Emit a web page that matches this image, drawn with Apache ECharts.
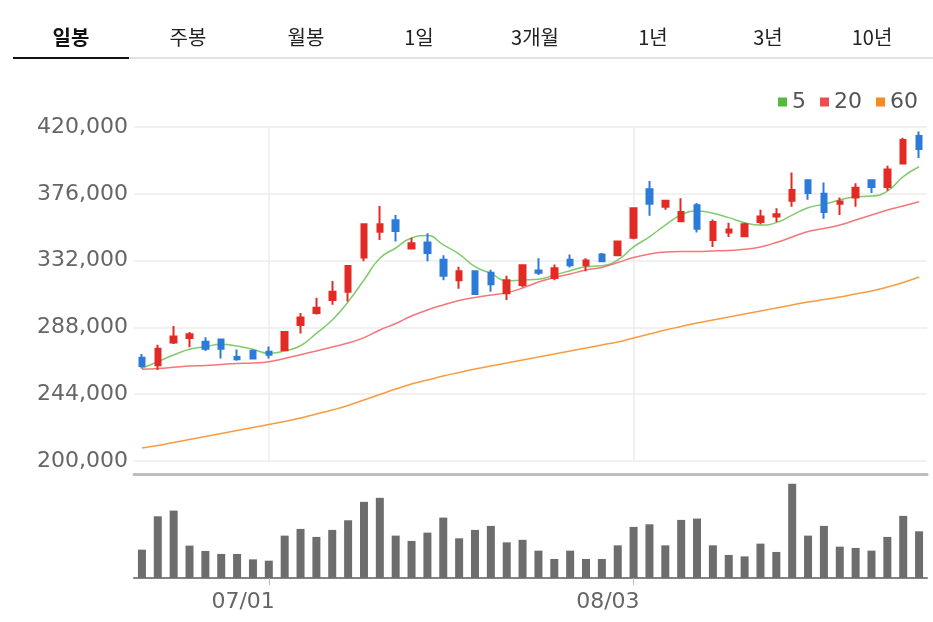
<!DOCTYPE html>
<html>
<head>
<meta charset="utf-8">
<script src="https://cdn.jsdelivr.net/npm/echarts@6/dist/echarts.min.js"></script>
<style>
  html, body { margin: 0; padding: 0; background: #fff; }
  #chart { width: 933px; height: 622px; }
</style>
</head>
<body>
<div id="chart"></div>
<script>
// 탭 메뉴
const tabs = ['일봉', '주봉', '월봉', '1일', '3개월', '1년', '3년', '10년']
const tabX = [71, 188, 306, 419, 535, 653, 768, 872]

// 날짜 (일봉)
const dates = [
  '06/19', '06/22', '06/23', '06/24', '06/25', '06/26', '06/29', '06/30',
  '07/01', '07/02', '07/03', '07/06', '07/07', '07/08', '07/09', '07/10',
  '07/13', '07/14', '07/15', '07/16', '07/17', '07/20', '07/21', '07/22',
  '07/23', '07/24', '07/27', '07/28', '07/29', '07/30', '07/31',
  '08/03', '08/04', '08/05', '08/06', '08/07', '08/10', '08/11', '08/12',
  '08/13', '08/14', '08/18', '08/19', '08/20', '08/21', '08/24', '08/25',
  '08/26', '08/27', '08/28'
]
const labelDates = ['07/01', '08/03']

// [시가, 종가, 저가, 고가]
const ohlc = [
  [268000, 262500, 261000, 270500], [263000, 274000, 260000, 276500],
  [278000, 282000, 277000, 289000], [281000, 283500, 275000, 285000],
  [278500, 274000, 272500, 281500], [280000, 274000, 267500, 280500],
  [268500, 267000, 266000, 273500], [272500, 267500, 267000, 273500],
  [272000, 270000, 267500, 275500], [273000, 285000, 272500, 285500],
  [289500, 294500, 284000, 297500], [297500, 301000, 296500, 307500],
  [306000, 311500, 303000, 318500], [311500, 328500, 305000, 329000],
  [334000, 356000, 331500, 356500], [351000, 356000, 345500, 368000],
  [358500, 351500, 344500, 362000], [340000, 343500, 340000, 347000],
  [344000, 337000, 331500, 350000], [332500, 322000, 319000, 335500],
  [319000, 325000, 313500, 328000], [325000, 310000, 309500, 325500],
  [324000, 316500, 311500, 326000], [310500, 319000, 306000, 322000],
  [316000, 329000, 314500, 329500], [325500, 324000, 322500, 333500],
  [320500, 327000, 319000, 329500], [332500, 329000, 327500, 336000],
  [329000, 332000, 325000, 333500], [336000, 331500, 331000, 337000],
  [335500, 344500, 335500, 344500], [347000, 366500, 346000, 366500],
  [379000, 369500, 361500, 384500], [367500, 371500, 365500, 372000],
  [358000, 364000, 357500, 373000], [368500, 353000, 350500, 370000],
  [345500, 357500, 341000, 359000], [350500, 352500, 347500, 357000],
  [348000, 356000, 347500, 357000], [357500, 361000, 356000, 365500],
  [361000, 362500, 357500, 366500], [371500, 378500, 367500, 390000],
  [385000, 376500, 372000, 385500], [376000, 364000, 359500, 383500],
  [369500, 371000, 362000, 373500], [373500, 380000, 367500, 383000],
  [385000, 380500, 376500, 385500], [380500, 392000, 378000, 394500],
  [396000, 411500, 396000, 413000], [414000, 405500, 399500, 417000]
]

// 이동평균선
const ma5 = [
  261100, 265400, 269800, 273600, 275300, 276900, 275700, 273600, 270900, 272600,
  275900, 284100, 292900, 304900, 319200, 333500, 340300, 346900, 348500, 342300,
  336300, 328000, 323600, 318600, 319200, 319700, 322500, 325300, 328000, 328600,
  332400, 341000, 347700, 355400, 362000, 364700, 363200, 360300, 357000, 355400,
  357000, 362000, 366800, 369100, 371900, 374100, 374500, 377800, 387300, 393800
]
const ma20 = [
  260400, 260900, 261700, 262600, 262900, 263600, 264200, 264500, 265400, 267500,
  270000, 272500, 275100, 277700, 281300, 286300, 290600, 295500, 299500, 302800,
  305700, 307700, 309300, 310900, 313900, 317900, 320900, 323200, 325800, 327500,
  330700, 334000, 336300, 337700, 338000, 338000, 338300, 338700, 339400, 341000,
  343900, 347500, 351200, 353100, 355400, 358700, 362000, 365300, 368000, 370800
]
const ma60 = [
  208600, 210200, 212200, 214200, 216100, 218100, 220100, 222100, 224000, 226000,
  228300, 231000, 233600, 236600, 240200, 243800, 247400, 250700, 253300, 256000,
  258300, 260600, 262600, 264500, 266500, 268500, 270500, 272500, 274400, 276400,
  278400, 281000, 283600, 286300, 288600, 290900, 292900, 294800, 296800, 298800,
  300800, 302800, 304700, 306400, 308000, 310000, 312000, 314600, 317600, 321200
]

// 거래량
const volumes = [
  283000, 616000, 673000, 323000, 270000, 240000, 240000, 186000, 173000, 423000,
  490000, 410000, 480000, 576000, 760000, 800000, 423000, 370000, 453000, 603000,
  396000, 480000, 520000, 356000, 381000, 273000, 190000, 273000, 190000, 190000,
  326000, 510000, 536000, 326000, 580000, 593000, 326000, 230000, 216000, 343000,
  260000, 940000, 423000, 520000, 313000, 300000, 273000, 410000, 620000, 466000
]

const UP = '#e22b25'
const DOWN = '#2d7bd8'
const showLabel = (i, v) => labelDates.includes(v)

const chart = echarts.init(document.getElementById('chart'))

const tabGraphics = tabs.map((t, i) => ({
  type: 'text',
  x: tabX[i],
  y: 37,
  style: {
    text: t,
    align: 'center',
    verticalAlign: 'middle',
    fontFamily: 'Noto Sans CJK KR',
    fontSize: 20,
    fontWeight: i === 0 ? 'bold' : 'normal',
    fill: i === 0 ? '#111' : '#222'
  }
}))

const option = {
  animation: false,
  textStyle: { fontFamily: 'DejaVu Sans' },
  graphic: [
    ...tabGraphics,
    { type: 'rect', shape: { x: 13, y: 57, width: 920, height: 2 }, style: { fill: '#e3e3e3' } },
    { type: 'rect', shape: { x: 13, y: 57, width: 116, height: 2 }, style: { fill: '#111' } }
  ],
  legend: {
    data: ['5', '20', '60'],
    right: 10,
    top: 86,
    icon: 'rect',
    itemWidth: 9,
    itemHeight: 9,
    itemGap: 14,
    textStyle: { fontSize: 22, color: '#555' }
  },
  grid: [
    { left: 134, right: 6, top: 127, height: 334 },
    { left: 134, right: 6, top: 474, bottom: 44 }
  ],
  xAxis: [
    {
      type: 'category',
      gridIndex: 0,
      data: dates,
      boundaryGap: true,
      axisLine: { show: false },
      axisTick: { show: false },
      axisLabel: { show: false },
      splitLine: { show: false }
    },
    {
      type: 'category',
      gridIndex: 1,
      data: dates,
      boundaryGap: true,
      axisLine: { lineStyle: { color: '#80848a', width: 2 } },
      axisTick: { show: true, alignWithLabel: true, interval: showLabel, length: 7, lineStyle: { color: '#bbb' } },
      axisLabel: { interval: showLabel, fontSize: 22, color: '#666', margin: 13, align: 'right', padding: [0, -6, 0, 0] },
      splitLine: { show: false }
    },
    {
      type: 'category',
      gridIndex: 1,
      position: 'top',
      data: dates,
      axisLine: { lineStyle: { color: '#bdbdbd', width: 3 } },
      axisTick: { show: false },
      axisLabel: { show: false }
    }
  ],
  yAxis: [
    {
      type: 'value',
      gridIndex: 0,
      min: 200000,
      max: 420000,
      interval: 44000,
      axisLine: { show: false },
      axisTick: { show: false },
      axisLabel: {
        fontSize: 22,
        color: '#666',
        margin: 6,
        formatter: v => v.toLocaleString('en-US')
      },
      splitLine: { lineStyle: { color: '#ececec', width: 1.5 } }
    },
    {
      type: 'value',
      gridIndex: 1,
      min: 0,
      max: 1038000,
      show: false,
      splitLine: { show: false }
    }
  ],
  series: [
    {
      name: 'grid-v',
      type: 'line',
      xAxisIndex: 0,
      yAxisIndex: 0,
      data: [],
      z: 1,
      markLine: {
        silent: true,
        z: 1,
        symbol: 'none',
        label: { show: false },
        lineStyle: { color: '#ececec', width: 1.5, type: 'solid' },
        data: labelDates.map(d => ({ xAxis: d }))
      }
    },
    {
      name: 'price',
      type: 'candlestick',
      xAxisIndex: 0,
      yAxisIndex: 0,
      data: ohlc,
      barWidth: 6,
      z: 3,
      itemStyle: {
        color: UP,
        color0: DOWN,
        borderColor: UP,
        borderColor0: DOWN,
        borderWidth: 2
      }
    },
    {
      name: '5',
      type: 'line',
      data: ma5,
      smooth: true,
      showSymbol: false,
      color: '#55b93d',
      lineStyle: { width: 1.5, opacity: 0.75 }
    },
    {
      name: '20',
      type: 'line',
      data: ma20,
      smooth: true,
      showSymbol: false,
      color: '#ef4a4f',
      lineStyle: { width: 1.5, opacity: 0.75 }
    },
    {
      name: '60',
      type: 'line',
      data: ma60,
      smooth: true,
      showSymbol: false,
      color: '#f68b1f',
      lineStyle: { width: 1.5, opacity: 0.85 }
    },
    {
      name: 'volume',
      type: 'bar',
      xAxisIndex: 1,
      yAxisIndex: 1,
      data: volumes,
      barWidth: 8,
      itemStyle: { color: '#6d6d6d' }
    }
  ]
}

chart.setOption(option)
</script>
</body>
</html>
